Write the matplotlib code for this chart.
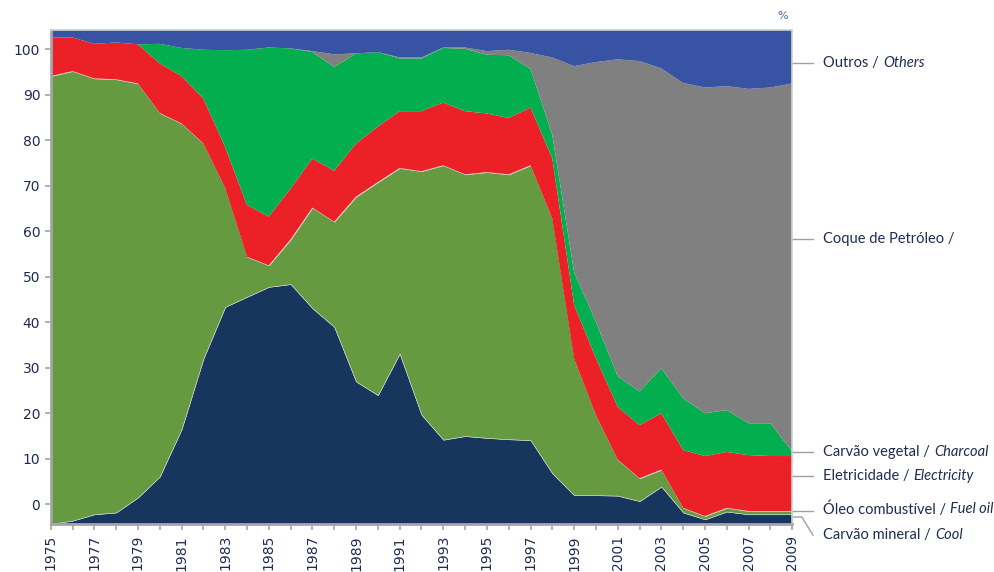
import numpy as np
from matplotlib import pyplot as plt

# Dados (topo de cada camada no eixo em %)
years = np.arange(1975, 2010)

coal_top = [-4.3, -3.6, -2.2, -1.8, 1.5, 6.1, 16.5, 32.0, 43.4, 45.6, 47.8, 48.4,
            43.1, 39.0, 27.0, 24.0, 33.1, 19.7, 14.2, 15.0, 14.6, 14.3, 14.1, 6.8,
            2.0, 2.0, 1.9, 0.7, 3.9, -1.8, -3.3, -1.6, -2.2, -2.2, -2.2]
fuel_top = [94.1, 95.2, 93.6, 93.4, 92.5, 86.0, 83.7, 79.3, 69.5, 54.4, 52.5, 58.2,
            65.2, 62.1, 67.6, 70.8, 73.9, 73.2, 74.5, 72.5, 73.0, 72.5, 74.5, 62.8,
            32.0, 19.6, 9.8, 5.7, 7.6, -0.8, -2.6, -0.8, -1.5, -1.5, -1.5]
elec_top = [102.6, 102.6, 101.2, 101.5, 101.1, 96.9, 94.1, 89.2, 78.5, 65.8, 63.2, 69.4,
            76.0, 73.3, 79.3, 83.0, 86.4, 86.4, 88.3, 86.4, 85.9, 84.9, 87.2, 76.0,
            43.8, 32.1, 21.4, 17.4, 20.0, 11.9, 10.6, 11.5, 10.8, 10.6, 10.6]
charcoal_top = [102.6, 102.6, 101.2, 101.5, 101.1, 101.2, 100.3, 99.9, 99.8, 99.9, 100.4, 100.2,
                99.4, 96.1, 99.1, 99.4, 98.0, 98.0, 100.3, 100.1, 98.8, 98.7, 95.7, 81.2,
                51.0, 40.1, 28.1, 24.8, 29.9, 23.3, 20.0, 20.7, 17.8, 17.8, 11.6]
coke_top = [102.6, 102.6, 101.2, 101.5, 101.1, 101.2, 100.3, 99.9, 99.8, 99.9, 100.4, 100.2,
            99.6, 98.9, 99.1, 99.4, 98.2, 98.2, 100.4, 100.4, 99.6, 99.9, 99.2, 98.2,
            96.3, 97.2, 97.8, 97.4, 95.8, 92.6, 91.6, 91.9, 91.3, 91.6, 92.5]

y_min, y_max = -4.33, 104.3

# rótulos à direita
labels_pt = ['Outros / ', 'Coque de Petróleo / ', 'Carvão vegetal / ', 'Eletricidade / ',
             'Óleo combustível / ', 'Carvão mineral / ']
labels_en = ['Others', '', 'Charcoal', 'Electricity', 'Fuel oil', 'Cool']
label_line_y = [97.1, 58.3, 11.5, 6.2, -1.4, -2.8]
label_text_y = [97.1, 58.3, 11.5, 6.2, -1.0, -6.8]

navy = '#17365d'
olive = '#659a40'
red = '#ec2027'
green = '#03ae4f'
grey = '#808080'
blue = '#3953a4'
txt = '#1f2c52'

fig = plt.figure(figsize=(9.94, 5.72), dpi=100)
ax = fig.add_axes([0.051, 0.084, 0.746, 0.864])

edge = dict(edgecolor='#d9d9d9', linewidth=0.4)
ax.fill_between(years, y_min, coal_top, facecolor=navy, **edge)
ax.fill_between(years, coal_top, fuel_top, facecolor=olive, **edge)
ax.fill_between(years, fuel_top, elec_top, facecolor=red, linewidth=0)
ax.fill_between(years, elec_top, charcoal_top, facecolor=green, linewidth=0)
ax.fill_between(years, charcoal_top, coke_top, facecolor=grey, linewidth=0)
ax.fill_between(years, coke_top, y_max, facecolor=blue, linewidth=0)

ax.set_xlim(years[0], years[-1])
ax.set_ylim(y_min, y_max)
ax.set_yticks(np.arange(0, 101, 10))
ax.set_xticks(years)
ax.set_xticklabels([str(y) if (y - 1975) % 2 == 0 else '' for y in years], rotation=90)
ax.tick_params(axis='both', colors='#a6a6a6', labelcolor=txt, labelsize=10, length=4, width=1.2)
ax.tick_params(axis='x', pad=4)

for s in ['left', 'bottom']:
    ax.spines[s].set_color('#a6a6a6')
    ax.spines[s].set_linewidth(2)
for s in ['top', 'right']:
    ax.spines[s].set_color('#d0d0d0')
    ax.spines[s].set_linewidth(1.2)

fig.text(0.787, 0.972, '%', color='#3b62b0', fontsize=8, ha='center', va='center')

# linhas e rótulos à direita
trans = ax.get_yaxis_transform()
x_line_end = 1.028
x_text = 1.042
renderer = fig.canvas.get_renderer()
for pt, en, ly, ty in zip(labels_pt, labels_en, label_line_y, label_text_y):
    if ly != ty and pt.startswith('Carvão mineral'):
        ax.plot([1.0, 1.013, x_line_end], [ly, ly, ty], color='#a0a0a0', lw=1,
                transform=trans, clip_on=False)
    else:
        ax.plot([1.0, x_line_end], [ly, ly], color='#a0a0a0', lw=1,
                transform=trans, clip_on=False)
    t = ax.text(x_text, ty, pt, transform=trans, fontsize=10.5, color=txt,
                family='Lato', va='center', ha='left')
    bb = t.get_window_extent(renderer=renderer)
    fx = fig.transFigure.inverted().transform((bb.x1, bb.y0))[0]
    fy = ax.transData.transform((0, ty))[1]
    fy = fig.transFigure.inverted().transform((0, fy))[1]
    fig.text(fx, fy, en, fontsize=10.5, color=txt, family='Lato', style='italic',
             va='center', ha='left')

fig.savefig('out.png', dpi=100)
